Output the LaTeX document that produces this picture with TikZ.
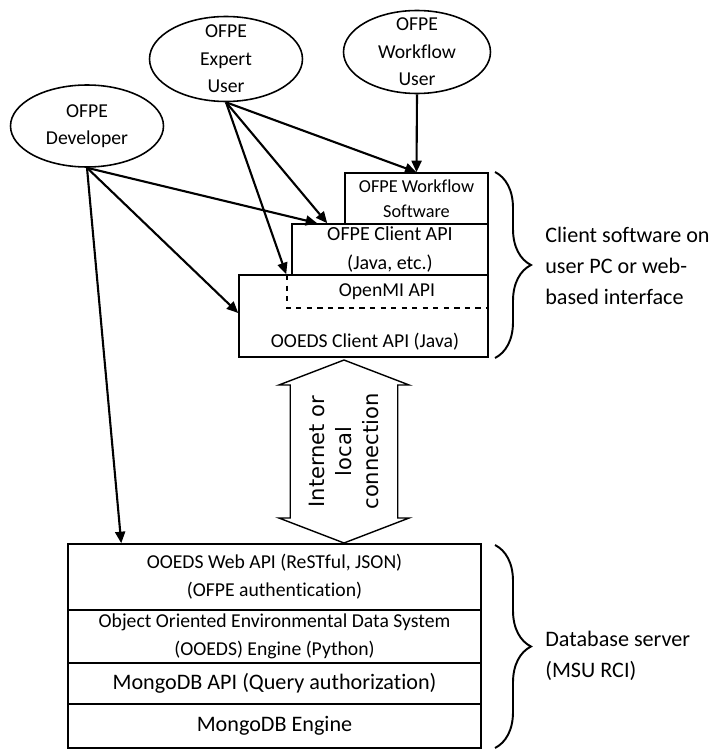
\documentclass[tikz,border=0pt]{standalone}
\usepackage{fontspec}
\setmainfont{Carlito}[Ligatures=NoCommon]
\newfontfamily\linkfont{DejaVu Sans}[Ligatures=NoCommon]
\usetikzlibrary{shapes.geometric,shapes.arrows,arrows.meta,decorations.pathreplacing}

\begin{document}
\begin{tikzpicture}[x=0.02cm,y=-0.02cm]
    \tikzstyle{user}=[ellipse,draw,line width=0.9pt,fill=white,inner sep=0pt]
    \tikzstyle{usertext}=[align=center,inner sep=0pt,font=\fontsize{11.2}{15.6}\selectfont]
    \tikzstyle{layer}=[rectangle,draw,line width=0.9pt,fill=white,inner sep=0pt,align=center,font=\fontsize{11.2}{15.9}\selectfont]
    \tikzstyle{uses}=[line width=1.2pt,-{Triangle[length=2.3mm,width=2mm]}]
    \tikzstyle{side}=[decorate,decoration={brace,amplitude=0.72cm},line width=1.1pt]
    \tikzstyle{sidetext}=[anchor=west,align=left,inner sep=0pt,font=\fontsize{12.6}{17.6}\selectfont]
    \useasboundingbox (0,0) rectangle (719,750);

    \node[user,minimum width=3.06cm,minimum height=1.64cm,label={[usertext]center:OFPE\\Developer}] (dev) at (87,126) {};
    \node[user,minimum width=3.06cm,minimum height=1.70cm,label={[usertext]center:OFPE\\Expert\\User}] (expert) at (226,59) {};
    \node[user,minimum width=2.94cm,minimum height=1.66cm,label={[usertext]center:OFPE\\Workflow\\User}] (wfuser) at (417,52) {};

    \node[layer,minimum width=2.86cm,minimum height=1.02cm,font=\fontsize{10.4}{14.2}\selectfont] (wfsw) at (416.5,198.5) {OFPE Workflow\\Software};
    \node[layer,minimum width=3.92cm,minimum height=1.02cm,font=\fontsize{11.4}{16.4}\selectfont] (capi) at (390,249.5) {OFPE Client API\\(Java, etc.)};
    \node[layer,minimum width=4.98cm,minimum height=1.64cm] (ooeds) at (363.5,316) {};
    \node[font=\fontsize{11.2}{14}\selectfont,inner sep=0pt] (openmi) at (387,292) {OpenMI API};
    \node[font=\fontsize{11.2}{14}\selectfont,inner sep=0pt] (ooedsname) at (365,342) {OOEDS Client API (Java)};
    \draw[dashed,line width=0.9pt] (287,275) -- (287,308) -- (488,308);

    \node[layer,minimum width=8.26cm,minimum height=1.32cm] (web) at (274.5,577) {OOEDS Web API (ReSTful, JSON)\\(OFPE authentication)};
    \node[layer,minimum width=8.26cm,minimum height=1.06cm] (engine) at (274.5,636.5) {Object Oriented Environmental Data System\\(OOEDS) Engine (Python)};
    \node[layer,minimum width=8.26cm,minimum height=0.82cm,font=\fontsize{12.6}{15}\selectfont] (mapi) at (274.5,683.5) {MongoDB API (Query authorization)};
    \node[layer,minimum width=8.26cm,minimum height=0.88cm,font=\fontsize{12.6}{15}\selectfont] (meng) at (274.5,726) {MongoDB Engine};

    \node[double arrow,draw,fill=white,line width=0.8pt,rotate=90,minimum height=3.66cm,minimum width=2.6cm,
          double arrow head extend=0.15cm,double arrow tip angle=138,inner sep=0pt,align=center,
          font=\linkfont\fontsize{12}{15.6}\selectfont] (link) at (344,451.5) {Internet or\\local\\connection};

    \draw[uses] (wfuser.south) -- (wfsw.north);
    \draw[uses] (expert.south) -- (wfsw.north);
    \draw[uses] (expert.south) -- ([xshift=0.72cm]capi.north west);
    \draw[uses] (expert.south) -- ([xshift=0.96cm]ooeds.north west);
    \draw[uses] (dev.south) -- ([xshift=0.52cm]capi.north west);
    \draw[uses] (dev.south) -- ([yshift=0.06cm]ooeds.west);
    \draw[uses] (dev.south) -- ([xshift=1.08cm]web.north west);

    \draw[side] (495,172) -- (495,358);
    \node[sidetext] (clientside) at (545,266) {Client software on\\user PC or web-\\based interface};
    \draw[side] (495,545) -- (495,748);
    \node[sidetext] (serverside) at (545,656) {Database server\\(MSU RCI)};
\end{tikzpicture}
\end{document}
